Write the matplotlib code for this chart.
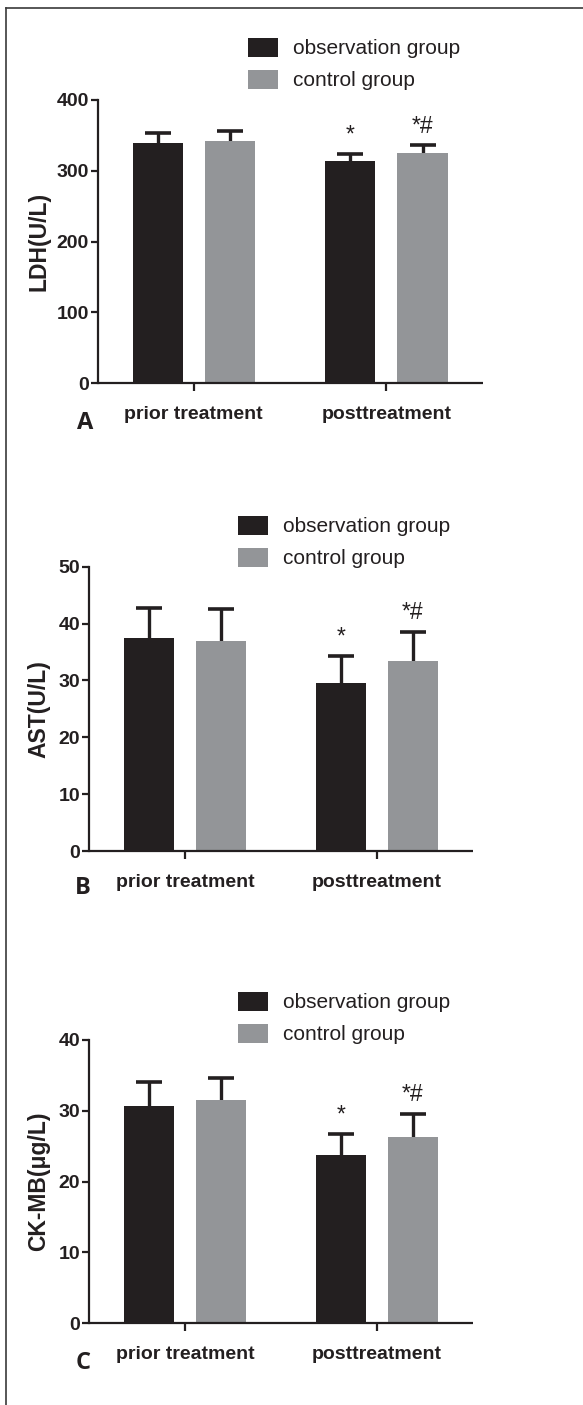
import matplotlib
matplotlib.use('Agg')
import matplotlib.pyplot as plt
import numpy as np
from matplotlib.lines import Line2D

# ---------------- data ----------------
categories = ['prior treatment', 'posttreatment']
series_names = ['observation group', 'control group']

ldh_obs_mean = [339.0, 314.0]
ldh_obs_sd = [14.0, 9.5]
ldh_ctrl_mean = [342.0, 325.0]
ldh_ctrl_sd = [14.0, 11.0]

ast_obs_mean = [37.5, 29.5]
ast_obs_sd = [5.3, 4.8]
ast_ctrl_mean = [37.0, 33.5]
ast_ctrl_sd = [5.6, 5.1]

ck_obs_mean = [30.7, 23.8]
ck_obs_sd = [3.4, 2.9]
ck_ctrl_mean = [31.5, 26.3]
ck_ctrl_sd = [3.2, 3.3]

obs_marks = ['', '*']
ctrl_marks = ['', '*#']

ldh_ticks = [0, 100, 200, 300, 400]
ast_ticks = [0, 10, 20, 30, 40, 50]
ck_ticks = [0, 10, 20, 30, 40]

# ---------------- style ----------------
W, H = 583, 1405
DPI = 100
BLACK = '#231f20'
GRAY = '#939598'
bold_font = ['Liberation Sans', 'DejaVu Sans']
leg_font = ['Liberation Sans', 'DejaVu Sans']
LEG_FS = 15

fig = plt.figure(figsize=(W / DPI, H / DPI), dpi=DPI)
fig.patch.set_facecolor('white')


def fx(px):
    return px / W


def fy(py):
    return 1 - py / H


def panel(rect_px, obs_m, obs_s, ctrl_m, ctrl_s, ticks, ylabel, ylab_x,
          leg_xy, letter, letter_xy):
    l, t, r, b = rect_px
    ax = fig.add_axes([fx(l), fy(b), fx(r - l), (b - t) / H])
    x = np.arange(len(categories))
    off = 0.1875
    w = 0.26
    colors = [BLACK, GRAY]
    means = [obs_m, ctrl_m]
    sds = [obs_s, ctrl_s]
    marks = [obs_marks, ctrl_marks]
    handles = []
    for i in range(2):
        xs = x + (2 * i - 1) * off
        bc = ax.bar(xs, means[i], width=w, color=colors[i], edgecolor='none',
                    zorder=2, label=series_names[i])
        handles.append(bc)
        eb = ax.errorbar(xs, means[i], yerr=[np.zeros(len(xs)), sds[i]],
                         fmt='none', ecolor=BLACK, elinewidth=2.4,
                         capsize=9.7, capthick=2.6, zorder=1)
        eb[1][0].set_visible(False)
        for xi, m, s, mk in zip(xs, means[i], sds[i], marks[i]):
            if mk:
                ax.annotate(mk, (xi, m + s), xytext=(0, 9),
                            textcoords='offset points', ha='center',
                            va='baseline', fontsize=16.5, color=BLACK,
                            family=leg_font)
    ax.set_xlim(-0.5, 1.5)
    ax.set_ylim(0, ticks[-1])
    ax.set_yticks(ticks)
    ax.set_xticks(x)
    ax.set_xticklabels(categories)
    for s in ['top', 'right']:
        ax.spines[s].set_visible(False)
    for s in ['left', 'bottom']:
        ax.spines[s].set_linewidth(1.6)
        ax.spines[s].set_color(BLACK)
    ax.spines['bottom'].set_capstyle('butt')
    ax.tick_params(axis='y', direction='out', length=4.8, width=1.6,
                   color=BLACK, pad=1.5, labelsize=14, labelcolor=BLACK)
    ax.tick_params(axis='x', direction='out', length=5.5, width=1.6,
                   color=BLACK, pad=11, labelsize=14, labelcolor=BLACK)
    for lab in ax.get_yticklabels() + ax.get_xticklabels():
        lab.set_fontweight('bold')
        lab.set_family(bold_font)
    ax.set_ylabel(ylabel, fontsize=16.5, fontweight='bold', family=bold_font,
                  color=BLACK)
    ax.yaxis.set_label_coords(ylab_x, 0.5)
    ax.legend(handles=handles, labels=series_names, loc='upper left',
              bbox_to_anchor=(fx(leg_xy[0]), fy(leg_xy[1])),
              bbox_transform=fig.transFigure, frameon=False, borderpad=0,
              borderaxespad=0, handlelength=1.44, handleheight=1.0,
              handletextpad=0.72, labelspacing=0.55,
              prop={'family': leg_font, 'size': LEG_FS}, labelcolor=BLACK)
    fig.text(fx(letter_xy[0]), fy(letter_xy[1]), letter, ha='center',
             va='center', fontsize=17, fontweight='bold',
             family=['Open Sans', 'DejaVu Sans'], color=BLACK)
    return ax


panel((97.5, 100.0, 482.7, 383.3), ldh_obs_mean, ldh_obs_sd, ldh_ctrl_mean,
      ldh_ctrl_sd, ldh_ticks, 'LDH(U/L)', (50 - 97.5) / 385.2,
      (248, 38), 'A', (85, 423))
panel((89.0, 566.7, 472.7, 851.0), ast_obs_mean, ast_obs_sd, ast_ctrl_mean,
      ast_ctrl_sd, ast_ticks, 'AST(U/L)', (50 - 89) / 383.7,
      (238, 516), 'B', (83, 888))
panel((89.0, 1040.0, 472.7, 1323.3), ck_obs_mean, ck_obs_sd, ck_ctrl_mean,
      ck_ctrl_sd, ck_ticks, 'CK-MB(μg/L)', (50 - 89) / 383.7,
      (238, 992), 'C', (83, 1363))

# figure frame: top and left lines
fig.add_artist(Line2D([fx(6), 1.0], [fy(8), fy(8)], transform=fig.transFigure,
                      color='#3a3a3a', lw=1.2))
fig.add_artist(Line2D([fx(6), fx(6)], [fy(8), 0.0], transform=fig.transFigure,
                      color='#3a3a3a', lw=1.2))

fig.savefig('out.png', dpi=DPI, facecolor='white')
